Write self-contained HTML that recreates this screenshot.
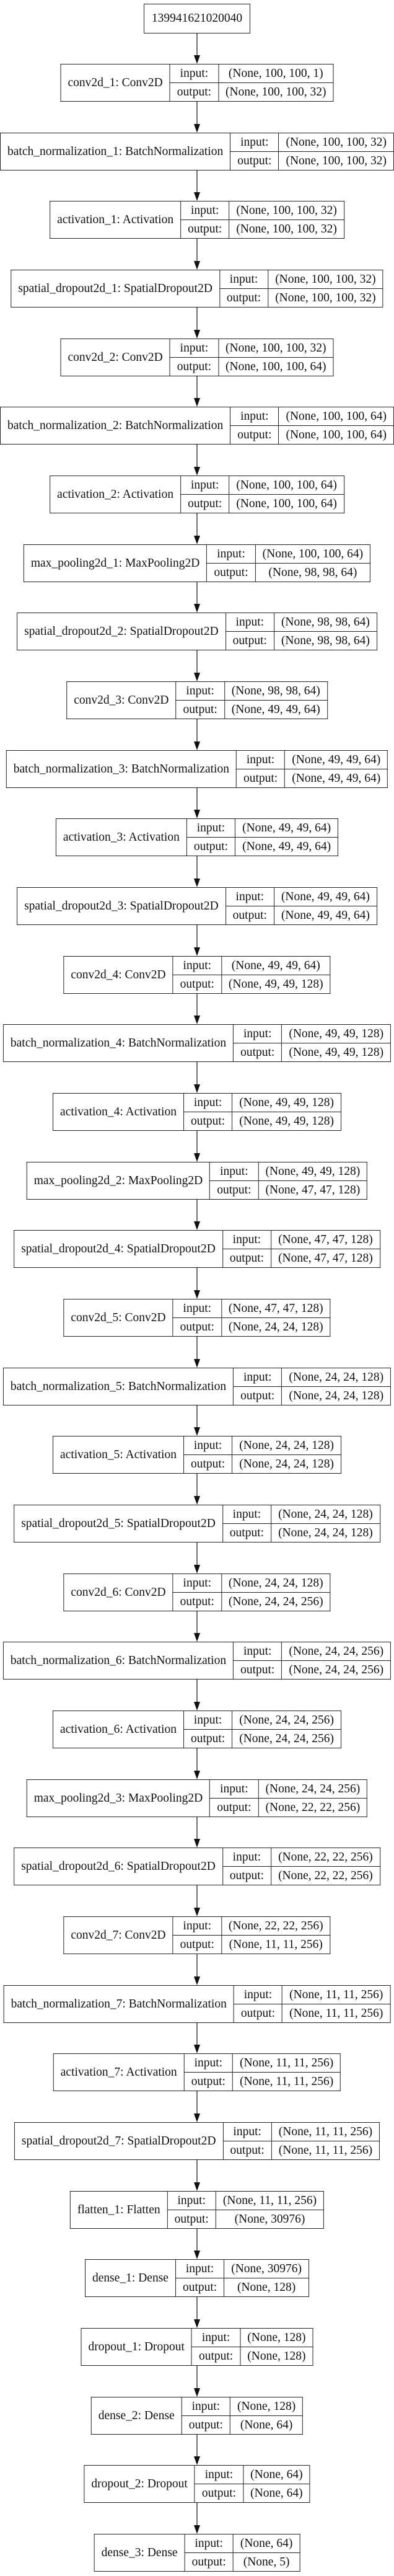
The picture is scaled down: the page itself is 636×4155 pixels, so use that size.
<!DOCTYPE html>
<html><head><meta charset="utf-8"><style>
html,body{margin:0;padding:0;background:#fff;}
body{width:636px;height:4155px;position:relative;overflow:hidden;font-family:"Liberation Serif",serif;font-size:19.5px;color:#111;}
.n{position:absolute;left:318px;transform:translateX(-50%);}
table{border-collapse:collapse;height:61px;}
td{border:1.2px solid #222;padding:0 11px;white-space:nowrap;text-align:center;height:29px;line-height:28px;}
.top{position:absolute;left:232px;top:6px;width:170px;height:46px;border:1.2px solid #222;text-align:center;line-height:46px;}
svg{position:absolute;left:0;top:0;}
</style></head><body>
<div class="top">139941621020040</div>
<div id="c"></div>
<script>
var L=[
["conv2d_1: Conv2D","(None, 100, 100, 1)","(None, 100, 100, 32)"],
["batch_normalization_1: BatchNormalization","(None, 100, 100, 32)","(None, 100, 100, 32)"],
["activation_1: Activation","(None, 100, 100, 32)","(None, 100, 100, 32)"],
["spatial_dropout2d_1: SpatialDropout2D","(None, 100, 100, 32)","(None, 100, 100, 32)"],
["conv2d_2: Conv2D","(None, 100, 100, 32)","(None, 100, 100, 64)"],
["batch_normalization_2: BatchNormalization","(None, 100, 100, 64)","(None, 100, 100, 64)"],
["activation_2: Activation","(None, 100, 100, 64)","(None, 100, 100, 64)"],
["max_pooling2d_1: MaxPooling2D","(None, 100, 100, 64)","(None, 98, 98, 64)"],
["spatial_dropout2d_2: SpatialDropout2D","(None, 98, 98, 64)","(None, 98, 98, 64)"],
["conv2d_3: Conv2D","(None, 98, 98, 64)","(None, 49, 49, 64)"],
["batch_normalization_3: BatchNormalization","(None, 49, 49, 64)","(None, 49, 49, 64)"],
["activation_3: Activation","(None, 49, 49, 64)","(None, 49, 49, 64)"],
["spatial_dropout2d_3: SpatialDropout2D","(None, 49, 49, 64)","(None, 49, 49, 64)"],
["conv2d_4: Conv2D","(None, 49, 49, 64)","(None, 49, 49, 128)"],
["batch_normalization_4: BatchNormalization","(None, 49, 49, 128)","(None, 49, 49, 128)"],
["activation_4: Activation","(None, 49, 49, 128)","(None, 49, 49, 128)"],
["max_pooling2d_2: MaxPooling2D","(None, 49, 49, 128)","(None, 47, 47, 128)"],
["spatial_dropout2d_4: SpatialDropout2D","(None, 47, 47, 128)","(None, 47, 47, 128)"],
["conv2d_5: Conv2D","(None, 47, 47, 128)","(None, 24, 24, 128)"],
["batch_normalization_5: BatchNormalization","(None, 24, 24, 128)","(None, 24, 24, 128)"],
["activation_5: Activation","(None, 24, 24, 128)","(None, 24, 24, 128)"],
["spatial_dropout2d_5: SpatialDropout2D","(None, 24, 24, 128)","(None, 24, 24, 128)"],
["conv2d_6: Conv2D","(None, 24, 24, 128)","(None, 24, 24, 256)"],
["batch_normalization_6: BatchNormalization","(None, 24, 24, 256)","(None, 24, 24, 256)"],
["activation_6: Activation","(None, 24, 24, 256)","(None, 24, 24, 256)"],
["max_pooling2d_3: MaxPooling2D","(None, 24, 24, 256)","(None, 22, 22, 256)"],
["spatial_dropout2d_6: SpatialDropout2D","(None, 22, 22, 256)","(None, 22, 22, 256)"],
["conv2d_7: Conv2D","(None, 22, 22, 256)","(None, 11, 11, 256)"],
["batch_normalization_7: BatchNormalization","(None, 11, 11, 256)","(None, 11, 11, 256)"],
["activation_7: Activation","(None, 11, 11, 256)","(None, 11, 11, 256)"],
["spatial_dropout2d_7: SpatialDropout2D","(None, 11, 11, 256)","(None, 11, 11, 256)"],
["flatten_1: Flatten","(None, 11, 11, 256)","(None, 30976)"],
["dense_1: Dense","(None, 30976)","(None, 128)"],
["dropout_1: Dropout","(None, 128)","(None, 128)"],
["dense_2: Dense","(None, 128)","(None, 64)"],
["dropout_2: Dropout","(None, 64)","(None, 64)"],
["dense_3: Dense","(None, 64)","(None, 5)"]
];
var h="",s='<svg width="636" height="4155">';
function arrow(y1,y2){s+='<line x1="318" y1="'+y1+'" x2="318" y2="'+(y2-13)+'" stroke="#222" stroke-width="1.3"/><polygon points="313,'+(y2-14)+' 323,'+(y2-14)+' 318,'+y2+'" fill="#111"/>';}
var prev=54;
for(var i=0;i<L.length;i++){
var t=Math.round(103+i*110.67);
arrow(prev,t);
h+='<div class="n" style="top:'+t+'px"><table><tr><td rowspan="2">'+L[i][0]+'</td><td>input:</td><td>'+L[i][1]+'</td></tr><tr><td>output:</td><td>'+L[i][2]+'</td></tr></table></div>';
prev=t+61;
}
s+='</svg>';
document.getElementById("c").innerHTML=s+h;
</script>
</body></html>
